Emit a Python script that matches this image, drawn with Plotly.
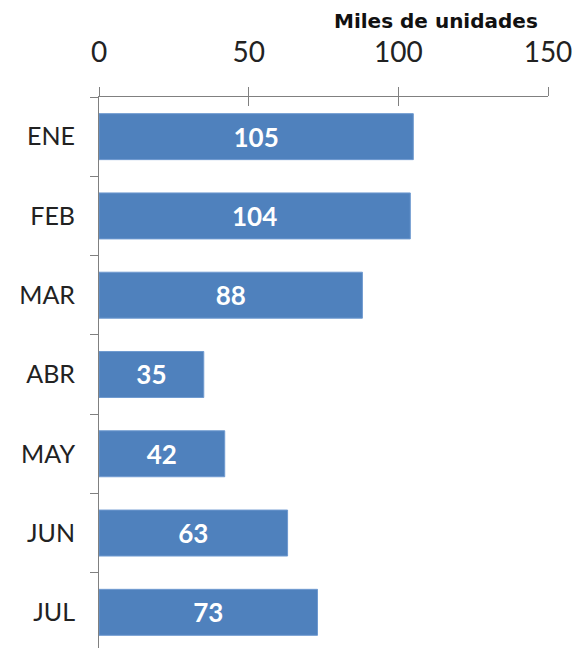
import plotly.graph_objects as go

# Datos: miles de unidades por mes
meses = ["ENE", "FEB", "MAR", "ABR", "MAY", "JUN", "JUL"]
unidades = [105, 104, 88, 35, 42, 63, 73]
ticks_x = [0, 50, 100, 150]

AZUL = "#4F81BD"
FUENTE = "Lato"

fig = go.Figure()

fig.add_trace(go.Bar(
    y=meses,
    x=unidades,
    orientation="h",
    marker_color=AZUL,
    marker_line=dict(color="#6F9AD0", width=1),
    text=[str(v) for v in unidades],
    textposition="inside",
    insidetextanchor="middle",
    textangle=0,
    textfont=dict(family=FUENTE, size=26, color="white", weight="bold"),
    width=0.58,
    showlegend=False,
))

# traza vacia para el eje superpuesto (ticks hacia dentro)
fig.add_trace(go.Scatter(x=[None], y=[None], xaxis="x2", showlegend=False, hoverinfo="skip"))

# la pagina tiene 8px de margen en el body: se compensa en el tamaño
fig.update_layout(
    width=572,
    height=640,
    margin=dict(l=91, r=32, t=89, b=0),
    plot_bgcolor="white",
    paper_bgcolor="white",
    xaxis=dict(
        side="top",
        range=[0, 150],
        tickvals=ticks_x,
        ticks="outside",
        ticklen=9,
        tickcolor="#808080",
        showline=True,
        linecolor="#808080",
        linewidth=1,
        showgrid=False,
        zeroline=False,
        automargin=False,
        ticklabeloverflow="allow",
        ticklabelstandoff=14,
        tickfont=dict(family=FUENTE, size=28, color="#222222"),
    ),
    xaxis2=dict(
        overlaying="x",
        side="top",
        range=[0, 150],
        tickvals=ticks_x,
        ticks="inside",
        ticklen=9,
        tickcolor="#808080",
        showticklabels=False,
        showline=False,
        showgrid=False,
        zeroline=False,
        automargin=False,
    ),
    yaxis=dict(
        range=[6.45, -0.5],
        type="category",
        tickson="boundaries",
        ticks="outside",
        ticklen=8,
        tickcolor="#808080",
        showline=True,
        linecolor="#808080",
        linewidth=1,
        showgrid=False,
        zeroline=False,
        automargin=False,
        ticklabelstandoff=18,
        tickfont=dict(family=FUENTE, size=25, color="#222222"),
    ),
    annotations=[dict(
        text="<b>Miles de unidades</b>",
        xref="paper", yref="paper",
        x=1, y=1,
        xanchor="right", yanchor="bottom",
        xshift=-8, yshift=62,
        showarrow=False,
        font=dict(family="DejaVu Sans", size=20, color="#111111"),
    )],
)

fig.write_html("out.html")
